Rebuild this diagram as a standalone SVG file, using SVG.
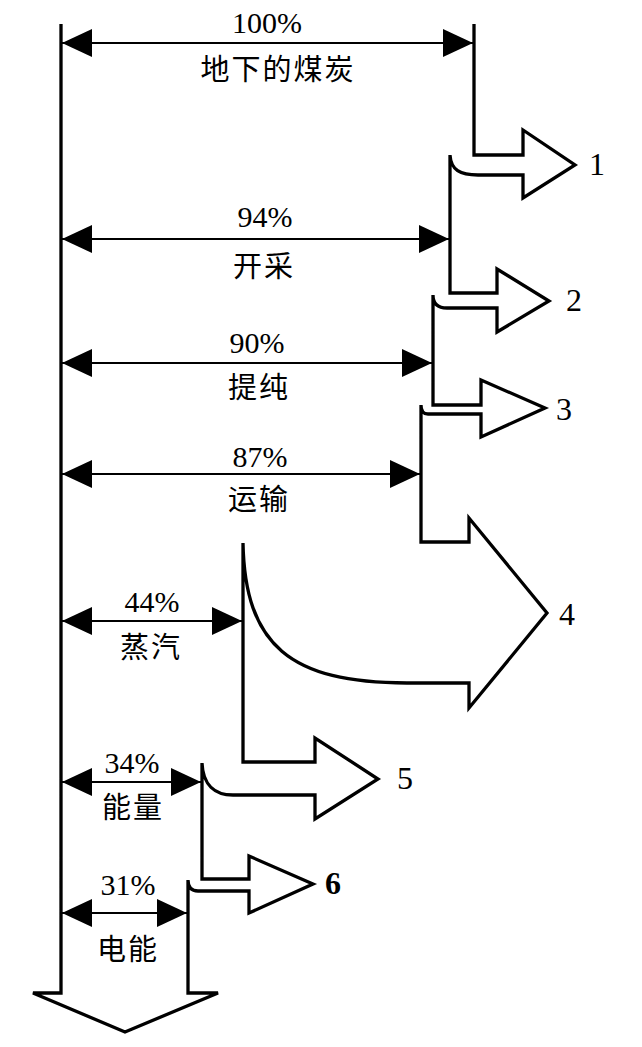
<svg xmlns="http://www.w3.org/2000/svg" width="642" height="1047" viewBox="0 0 642 1047">
<style>
.flow{fill:none;stroke:#000;stroke-width:3.3;stroke-linejoin:miter}
.dim{stroke:#000;stroke-width:2}
.head{fill:#000}
.pct{font-family:"Liberation Serif",serif;font-size:30px;fill:#000;text-anchor:middle}
.cn{font-family:"Liberation Serif","Noto Sans CJK SC",sans-serif;font-size:29px;fill:#000;text-anchor:middle;letter-spacing:2px}
.num{font-family:"Liberation Serif",serif;font-size:32px;fill:#000}
</style>
<defs>
<marker id="ah" viewBox="0 0 30 28" refX="30" refY="14" markerWidth="30" markerHeight="28" markerUnits="userSpaceOnUse" orient="auto-start-reverse">
<path d="M0,0 L30,14 L0,28 Z" class="head"/>
</marker>
</defs>
<rect width="642" height="1047" fill="#fff"/>
<g id="flow">
<path class="flow" d="M474,24 L474,155 L523,155 L523,130 L575,165 L523,198 L523,175 L478,175 C460,175 451,170 450,155 L450,293 L497,293 L497,269 L549,301 L497,332 L497,308 L447,308 C438,308 433,304 433,295 L433,405 L481,405 L481,380 L545,408 L481,437 L481,414 L428,414 C423,414 421,411 421,405 L421,542 L469,542 L469,518 L547,613 L469,708 L469,683 L407,683 C290,683 245,645 243,543 L243,762 L315,762 L315,738 L378,779 L315,819 L315,795 L233,795 C215,795 203,785 202,763 L202,879 L249,879 L249,856 L313,884 L249,913 L249,891 L198,891 C192,891 188,888 188,880 L188,993 L218,993 L125,1032 L33,993 L61,993 L61,24"/>
</g>
<g id="connectors">
<line class="dim" x1="62" y1="43" x2="473" y2="43" marker-start="url(#ah)" marker-end="url(#ah)"/>
<line class="dim" x1="62" y1="239" x2="449" y2="239" marker-start="url(#ah)" marker-end="url(#ah)"/>
<line class="dim" x1="62" y1="363" x2="432" y2="363" marker-start="url(#ah)" marker-end="url(#ah)"/>
<line class="dim" x1="62" y1="474" x2="420" y2="474" marker-start="url(#ah)" marker-end="url(#ah)"/>
<line class="dim" x1="62" y1="621" x2="242" y2="621" marker-start="url(#ah)" marker-end="url(#ah)"/>
<line class="dim" x1="62" y1="782" x2="201" y2="782" marker-start="url(#ah)" marker-end="url(#ah)"/>
<line class="dim" x1="62" y1="913" x2="187" y2="913" marker-start="url(#ah)" marker-end="url(#ah)"/>
</g>
<g id="stage-coal">
<text class="pct" x="267" y="33">100%</text>
<text class="cn" x="278" y="80">地下的煤炭</text>
</g>
<g id="stage-mining">
<text class="pct" x="265" y="227">94%</text>
<text class="cn" x="264" y="277">开采</text>
</g>
<g id="stage-purify">
<text class="pct" x="257" y="353">90%</text>
<text class="cn" x="259" y="398">提纯</text>
</g>
<g id="stage-transport">
<text class="pct" x="260" y="467">87%</text>
<text class="cn" x="259" y="510">运输</text>
</g>
<g id="stage-steam">
<text class="pct" x="152" y="612">44%</text>
<text class="cn" x="151" y="658">蒸汽</text>
</g>
<g id="stage-energy">
<text class="pct" x="132" y="773">34%</text>
<text class="cn" x="133" y="818">能量</text>
</g>
<g id="stage-electric">
<text class="pct" x="128" y="895">31%</text>
<text class="cn" x="128" y="960">电能</text>
</g>
<g id="losses">
<text class="num" x="589" y="175">1</text>
<text class="num" x="566" y="311">2</text>
<text class="num" x="556" y="420">3</text>
<text class="num" x="559" y="625">4</text>
<text class="num" x="397" y="789">5</text>
<text class="num" x="325" y="894" font-weight="bold">6</text>
</g>
</svg>
